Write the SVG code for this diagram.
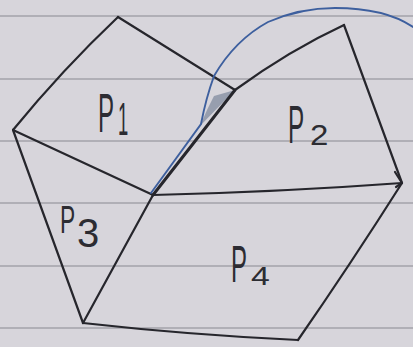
<svg xmlns="http://www.w3.org/2000/svg" width="413" height="347" viewBox="0 0 413 347">
<style>
.rule{stroke:#a3a2aa;stroke-width:1.6;fill:none}
.ink{stroke:#26262c;stroke-width:2.2;fill:none;stroke-linecap:round;stroke-linejoin:round}
.blue{stroke:#3d5f9e;stroke-width:1.9;fill:none;stroke-linecap:round}
.lbl{font-family:"Liberation Sans",Arial,sans-serif;fill:#2c2c32}
</style>
<rect width="413" height="347" fill="#d7d5db"/>
<g id="paper-rules">
<line class="rule" x1="0" y1="16" x2="413" y2="16"/>
<line class="rule" x1="0" y1="79" x2="413" y2="79"/>
<line class="rule" x1="0" y1="141" x2="413" y2="141"/>
<line class="rule" x1="0" y1="203" x2="413" y2="203"/>
<line class="rule" x1="0" y1="266" x2="413" y2="266"/>
<line class="rule" x1="0" y1="328" x2="413" y2="328"/>
</g>
<g id="shading">
<polygon points="200,126 235,90 214,96 207,110" fill="#4a5a78" opacity="0.45"/>
</g>
<g id="edges">
<path class="ink" d="M118,17 Q62,70 13,130"/>
<path class="ink" d="M118,17 L235,90"/>
<path class="ink" d="M13,130 L153,195"/>
<path class="ink" d="M153,195 L235,90" style="stroke-width:3"/>
<path class="ink" d="M235,90 Q290,50 344,25"/>
<path class="ink" d="M344,25 L402,183"/>
<path class="ink" d="M395,172 L402,183 L396,187"/>
<path class="ink" d="M153,195 Q280,192 402,183"/>
<path class="ink" d="M402,183 Q350,265 298,340"/>
<path class="ink" d="M83,323 Q190,335 298,340"/>
<path class="ink" d="M13,130 L83,323"/>
<path class="ink" d="M153,195 L83,323"/>
</g>
<g id="blue-curve">
<path class="blue" d="M151,193 L201,124 Q206,98 214,76 Q235,40 268,22 Q300,8 335,8 Q385,8 413,27"/>
</g>
<g id="label-p1">
<text class="lbl" transform="translate(98,132) scale(0.43,1)" font-size="56">P</text>
<text class="lbl" transform="translate(118,135) scale(0.4,1)" font-size="46">1</text>
</g>
<g id="label-p2">
<text class="lbl" transform="translate(288,143) scale(0.45,1)" font-size="54">P</text>
<text class="lbl" transform="translate(310,145) scale(1.1,1)" font-size="30">2</text>
</g>
<g id="label-p3">
<text class="lbl" transform="translate(60,233) scale(0.6,1)" font-size="38">P</text>
<text class="lbl" transform="translate(77,247) scale(1,1)" font-size="40">3</text>
</g>
<g id="label-p4">
<text class="lbl" transform="translate(231,282) scale(0.47,1)" font-size="51">P</text>
<text class="lbl" transform="translate(251,285) scale(1.3,1)" font-size="26">4</text>
</g>
</svg>
